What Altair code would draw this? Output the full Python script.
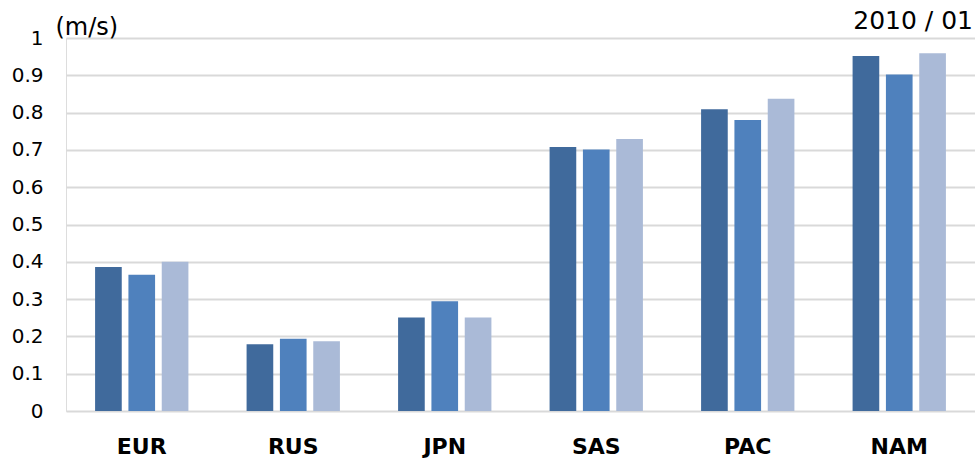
import altair as alt
import pandas as pd

regions = ["EUR", "RUS", "JPN", "SAS", "PAC", "NAM"]
series = ["S1", "S2", "S3"]
s1 = [0.386, 0.179, 0.251, 0.708, 0.809, 0.952]
s2 = [0.365, 0.194, 0.294, 0.701, 0.780, 0.902]
s3 = [0.400, 0.187, 0.251, 0.729, 0.837, 0.959]
colors = ["#406a9c", "#4f81bd", "#aabad7"]
y_ticks = [0, 0.1, 0.2, 0.3, 0.4, 0.5, 0.6, 0.7, 0.8, 0.9, 1]
date_label = "2010 / 01"

rows = []
for name, vals in zip(series, [s1, s2, s3]):
    for r, v in zip(regions, vals):
        rows.append({"region": r, "series": name, "value": v})
df = pd.DataFrame(rows)

FONT = "DejaVu Sans"

bars = alt.Chart(df).mark_bar().encode(
    x=alt.X("region:N", sort=regions,
            scale=alt.Scale(paddingInner=0.384, paddingOuter=0.192),
            axis=alt.Axis(title=None, labelAngle=0, ticks=False, domain=False,
                          labelFont=FONT, labelFontSize=22, labelFontWeight="bold",
                          labelColor="#000000", labelPadding=25, grid=False)),
    xOffset=alt.XOffset("series:N", sort=series,
                        scale=alt.Scale(paddingInner=0.2, paddingOuter=0)),
    y=alt.Y("value:Q", scale=alt.Scale(domain=[0, 1], nice=False),
            axis=alt.Axis(values=y_ticks, format="~g", title="(m/s)", titleAngle=0,
                          titleAlign="left", titleBaseline="alphabetic",
                          titleX=-11, titleY=-4, titleFont=FONT,
                          titleFontSize=24, titleFontWeight="normal",
                          titleColor="#000000",
                          ticks=False, domain=False, labelFont=FONT,
                          labelFontSize=20, labelColor="#000000",
                          labelPadding=23, gridColor="#d9d9d9",
                          gridWidth=2)),
    color=alt.Color("series:N", sort=series,
                    scale=alt.Scale(domain=series, range=colors), legend=None),
)

date_text = alt.Chart(pd.DataFrame({"t": [date_label]})).mark_text(
    align="right", baseline="alphabetic", font=FONT, fontSize=25, color="#000000"
).encode(text="t:N", x=alt.value(907), y=alt.value(-9))

chart = alt.layer(bars, date_text).properties(
    width=909,
    height=373,
    autosize=alt.AutoSizeParams(type="none"),
    padding={"left": 66, "top": 38, "right": 0, "bottom": 50},
).configure_view(stroke=None).configure(background="#ffffff")

chart.save("out.html", embed_options={"renderer": "svg", "actions": False})
